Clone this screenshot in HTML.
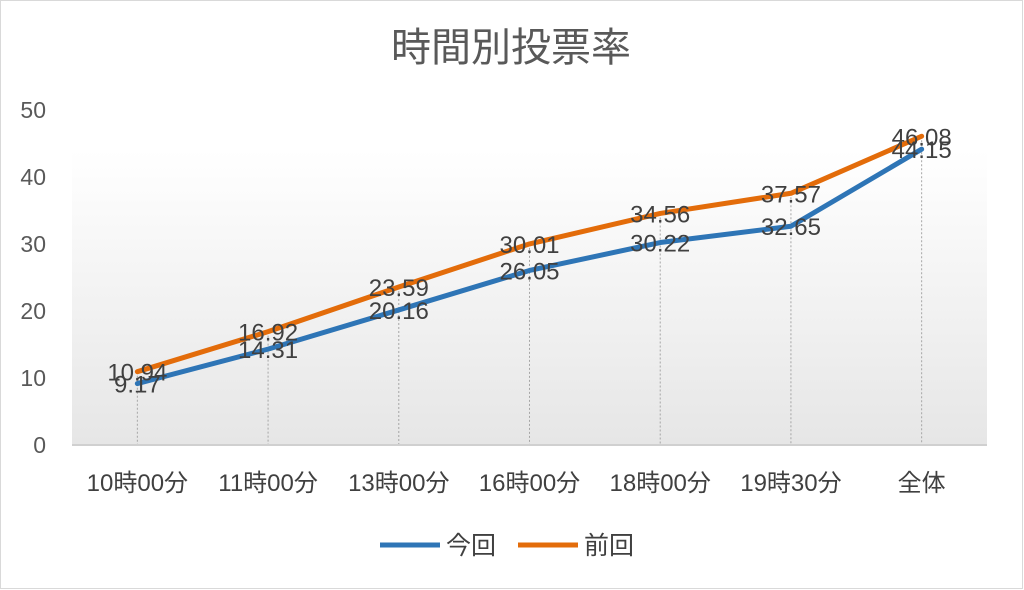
<!DOCTYPE html>
<html><head><meta charset="utf-8"><style>
body{margin:0;background:#fff;}
svg{display:block;font-family:"Liberation Sans","Noto Sans CJK JP",sans-serif;}
</style></head><body>
<svg id="chart" width="1024" height="590" viewBox="0 0 1024 590">
<defs><linearGradient id="bg" x1="0" y1="0" x2="0" y2="1"><stop offset="0" stop-color="#ffffff"/><stop offset="1" stop-color="#e6e6e6"/></linearGradient></defs>
<rect x="0.5" y="0.5" width="1022" height="588" fill="#fff" stroke="#d9d9d9"/>
<text x="511" y="61" text-anchor="middle" font-size="40" fill="#595959">時間別投票率</text>
<rect x="72" y="150" width="915" height="295" fill="url(#bg)"/>
<g id="yaxis"></g><g id="drops"></g><g id="lines"></g><g id="labels"></g><g id="xaxis"></g>
<g>
<line x1="380" y1="545" x2="440" y2="545" stroke="#2e75b6" stroke-width="5"/>
<text x="446" y="554" font-size="25" fill="#404040">今回</text>
<line x1="518" y1="545" x2="578" y2="545" stroke="#e36c0a" stroke-width="5"/>
<text x="584" y="554" font-size="25" fill="#404040">前回</text>
</g>
</svg>
<script>
const categories=["10時00分","11時00分","13時00分","16時00分","18時00分","19時30分","全体"];
const current=[9.17,14.31,20.16,26.05,30.22,32.65,44.15];
const previous=[10.94,16.92,23.59,30.01,34.56,37.57,46.08];
const yTicks=[0,10,20,30,40,50];
const NS="http://www.w3.org/2000/svg";
const left=72,right=987,y0=445,yTop=110,yMax=50;
const step=(right-left)/categories.length;
const xs=i=>left+step*(i+0.5);
const ys=v=>y0-(v/yMax)*(y0-yTop);
function mk(tag,attrs,parent){const e=document.createElementNS(NS,tag);for(const k in attrs)e.setAttribute(k,attrs[k]);document.getElementById(parent).appendChild(e);return e;}
yTicks.forEach(t=>{const e=mk("text",{x:46,y:ys(t)+8,"text-anchor":"end","font-size":23,fill:"#595959"},"yaxis");


e.textContent=t;});
const ax=mk("line",{x1:left,y1:y0,x2:right,y2:y0,stroke:"#d0d0d0","stroke-width":2},"xaxis");


categories.forEach((c,i)=>{const e=mk("text",{x:xs(i),y:491,"text-anchor":"middle","font-size":24,fill:"#404040"},"xaxis");


e.textContent=c;
const top=Math.min(ys(current[i]),ys(previous[i]));
const d=mk("line",{x1:xs(i),y1:top,x2:xs(i),y2:y0,stroke:"#a6a6a6","stroke-width":1,"stroke-dasharray":"2,2"},"drops");

});
function series(vals,color,name){
const p=mk("polyline",{points:vals.map((v,i)=>xs(i)+","+ys(v)).join(" "),fill:"none",stroke:color,"stroke-width":5,"stroke-linejoin":"round","stroke-linecap":"round"},"lines");


vals.forEach((v,i)=>{const t=mk("text",{x:xs(i),y:ys(v)+9,"text-anchor":"middle","font-size":24,fill:"#404040"},"labels");


t.textContent=v.toFixed(2);});}
series(previous,"#e36c0a","previous");
series(current,"#2e75b6","current");
</script>
</body></html>
